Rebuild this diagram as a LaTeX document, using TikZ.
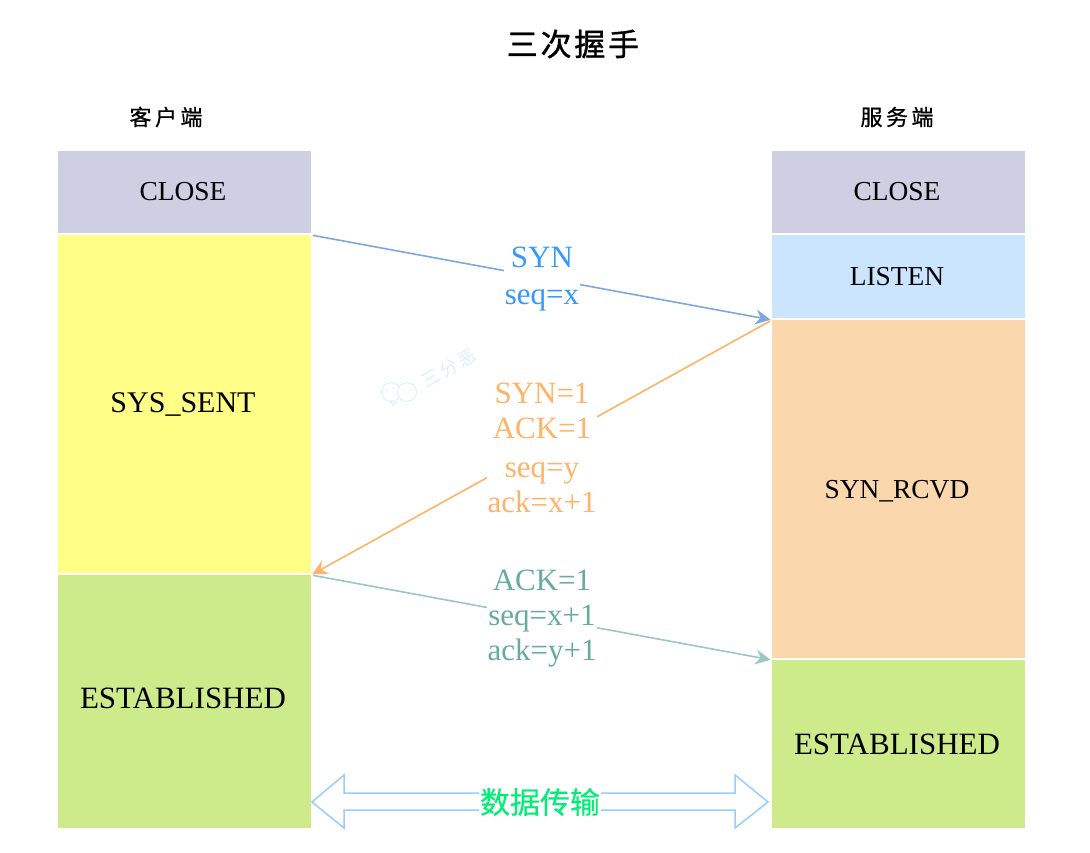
\documentclass[tikz,border=0pt]{standalone}
\usepackage{fontspec}
\setmainfont{Liberation Serif}
\newfontfamily\cjk[FakeBold=0.3]{Noto Sans CJK SC}
\newfontfamily\cjkwide[LetterSpace=9,FakeBold=1.2]{Noto Sans CJK SC}
\newfontfamily\cjklabel[LetterSpace=16,FakeBold=0.7]{Noto Sans CJK SC}
\newfontfamily\cjkmark[LetterSpace=14]{Noto Sans CJK SC}
\usetikzlibrary{positioning,arrows.meta}

\definecolor{closecol}{HTML}{D0CEE2}
\definecolor{sentcol}{HTML}{FFFF88}
\definecolor{estabcol}{HTML}{CDEB8B}
\definecolor{listencol}{HTML}{CCE5FF}
\definecolor{rcvdcol}{HTML}{FAD7AC}
\definecolor{synline}{HTML}{7EA6E0}
\definecolor{syntext}{HTML}{3399FF}
\definecolor{ackline}{HTML}{FFB366}
\definecolor{estline}{HTML}{9AC7BF}
\definecolor{esttext}{HTML}{67AB9F}
\definecolor{dataline}{HTML}{99CCFF}
\definecolor{datatext}{HTML}{00EE76}
\definecolor{markcol}{HTML}{DCEEFB}

\begin{document}
\begin{tikzpicture}[x=1pt,y=-1pt,>={Stealth[length=15pt,width=15pt,inset=5pt]},node distance=2pt,
    state/.style={minimum width=253pt,inner sep=0pt,outer sep=0pt,execute at begin node=\hspace*{-3pt},font=\fontsize{27.4}{32}\selectfont},
    bigstate/.style={state,font=\fontsize{30}{36}\selectfont},
    estab/.style={state,fill=estabcol,font=\fontsize{31}{36}\selectfont},
    msg/.style={fill=white,inner sep=1pt,align=center,font=\fontsize{31}{35}\selectfont},
    msgline/.style={line width=1.6pt,->,shorten >=1.5pt,shorten <=2pt},
    head/.style={font=\cjklabel\fontsize{22}{26}\selectfont}]

    \useasboundingbox (0,0) rectangle (1090,852);

    % client side
    \node[state,fill=closecol,minimum height=82pt,anchor=north west] (close1) at (58,151) {CLOSE};
    \node[bigstate,fill=sentcol,minimum height=338pt] (sent) [below=of close1] {SYS\_SENT};
    \node[estab,minimum height=253pt,text depth=6pt] (estab1) [below=of sent] {ESTABLISHED};

    % server side
    \node[state,fill=closecol,minimum height=82pt,anchor=north west] (close2) at (772,151) {CLOSE};
    \node[state,fill=listencol,minimum height=83pt] (listen) [below=of close2] {LISTEN};
    \node[state,fill=rcvdcol,minimum height=338pt,text height=22pt] (rcvd) [below=of listen] {SYN\_RCVD};
    \node[estab,minimum height=168pt] (estab2) [below=of rcvd] {ESTABLISHED};

    \node[font=\cjkwide\fontsize{31}{36}\selectfont] (title) at (573,44) {三次握手};
    \node[head] (client) at (166,117) {客户端};
    \node[head] (server) at (897,117) {服务端};

    % messages
    \draw[msgline,synline] (sent.north east) to (rcvd.north west);
    \draw[msgline,ackline] (rcvd.north west) to (estab1.north east);
    \draw[msgline,estline] (estab1.north east) to (estab2.north west);

    \node[msg,text=syntext] (syn) at (542,279) {SYN\\[2pt]seq=x};
    \node[msg,text=ackline] (synack) at (542,448) {SYN=1\\ACK=1\\[4pt]seq=y\\ack=x+1};
    \node[msg,text=esttext] (ack) at (542,619) {ACK=1\\seq=x+1\\ack=y+1};

    % data transfer
    \draw[dataline,line width=1.5pt,fill=white] (312,802) -- (344,775) -- (344,793) -- (735,793) -- (735,775)
        -- (768,802) -- (735,828) -- (735,810) -- (344,810) -- (344,828) -- cycle;
    \node[fill=white,inner sep=1pt,text=datatext,font=\cjk\fontsize{30}{34}\selectfont] (datalabel) at (540,802) {数据传输};

    % watermark
    \node[rotate=30,text=markcol,font=\cjkmark\fontsize{18}{20}\selectfont] (mark) at (449,368) {三分恶};
    \draw[markcol,line width=1pt] (391,392) circle (9.5);
    \draw[markcol,line width=1pt,fill=white] (407,392) circle (9.5);
    \draw[markcol,line width=1pt] (390,400) -- (393,405) -- (398,401);
    \fill[markcol] (387,390) circle (1) (393,388) circle (1) (403,390) circle (1) (411,390) circle (1);
\end{tikzpicture}
\end{document}
